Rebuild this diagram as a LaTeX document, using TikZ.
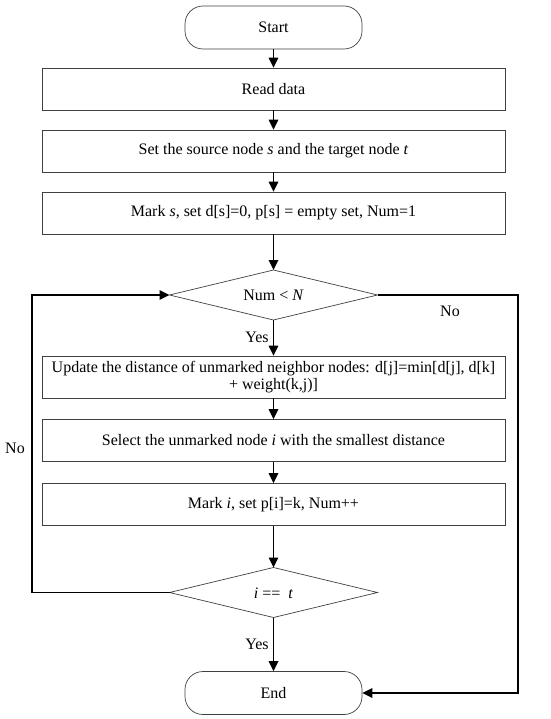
\documentclass[tikz,border=0pt]{standalone}
\usepackage{fontspec}
\setmainfont{Liberation Serif}
\usetikzlibrary{shapes.geometric,arrows.meta}
\newcommand{\dtext}[1]{\smash{\makebox[0pt]{\raisebox{-5.5pt}{#1}}}}
\begin{document}
\begin{tikzpicture}[x=1pt,y=-1pt,
  font=\fontsize{16}{17.5}\selectfont,
  procbox/.style={draw=black!75,line width=0.7pt,rectangle,minimum width=463pt,minimum height=42pt,inner sep=2pt,align=center},
  termbox/.style={draw=black!75,line width=0.7pt,rectangle,rounded corners=18pt,minimum width=177pt,minimum height=43pt},
  decbox/.style={draw=black!75,line width=0.7pt,diamond,minimum width=208pt,minimum height=50pt,inner sep=0pt,outer sep=0pt},
  flow/.style={line width=1.6pt,-{Triangle[length=10pt,width=9.5pt]}},
  lbl/.style={inner sep=1pt}]
\useasboundingbox (0,0) rectangle (550,719);
\node[termbox] (start) at (273.5,27.5) {Start};
\node[procbox] (read) at (273.5,89) {Read data};
\node[procbox] (set) at (273.5,151) {Set the source node \textit{s} and the target node \textit{t}};
\node[procbox] (mark) at (273.5,213) {Mark \textit{s}, set d[s]=0, p[s] = empty set, Num=1};
\node[decbox] (d1) at (273.5,295) {\dtext{Num < \textit{N}}};
\node[procbox] (upd) at (273.5,377) {Update the distance of unmarked neighbor nodes: d[j]=min[d[j], d[k]\\ + weight(k,j)]};
\node[procbox] (sel) at (273.5,440.5) {Select the unmarked node \textit{i} with the smallest distance};
\node[procbox] (marki) at (273.5,504.5) {Mark \textit{i}, set p[i]=k, Num++};
\node[decbox] (d2) at (273.5,592.5) {\dtext{\textit{i} == \ \textit{t}}};
\node[termbox] (end) at (273.5,693) {End};
\coordinate (lt) at (32,295);
\coordinate (lb) at (32,592.5);
\coordinate (rt) at (518,295);
\coordinate (rb) at (518,693);
\draw[flow] (start) -- (read);
\draw[flow] (read) -- (set);
\draw[flow] (set) -- (mark);
\draw[flow] (mark) -- (d1);
\draw[flow] (d1) -- node[lbl,left,pos=0.5,xshift=-3pt] {Yes} (upd);
\draw[flow] (upd) -- (sel);
\draw[flow] (sel) -- (marki);
\draw[flow] (marki) -- (d2);
\draw[flow] (d2) -- node[lbl,left,pos=0.5,xshift=-3pt] {Yes} (end);
\draw[flow] (d2.west) -- (lb) -- (lt) -- (d1.west);
\draw[flow] (d1.east) -- (rt) -- (rb) -- (end.east);
\node[lbl] (no1) at (450,311) {No};
\node[lbl] (no2) at (15,448) {No};
\end{tikzpicture}
\end{document}
